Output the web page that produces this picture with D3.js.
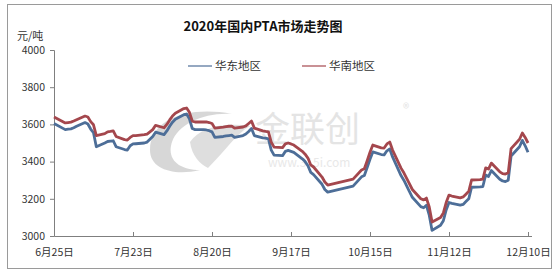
<!DOCTYPE html>
<html>
<head>
<meta charset="utf-8">
<title>2020年国内PTA市场走势图</title>
<script src="https://d3js.org/d3.v7.min.js"></script>
<style>
  body { margin: 0; background: #fff; }
  text { font-family: "Noto Sans CJK SC", sans-serif; }
</style>
</head>
<body>
<div id="chart"></div>
<script>
// trading days (2020) and prices
let dates = ["06-25","06-29","06-30","07-01","07-02","07-03","07-06","07-07","07-08","07-09",
  "07-10","07-13","07-14","07-15","07-16","07-17","07-20","07-21","07-22","07-23",
  "07-24","07-27","07-28","07-29","07-30","07-31","08-03","08-04","08-05","08-06",
  "08-07","08-10","08-11","08-12","08-13","08-14","08-17","08-18","08-19","08-20",
  "08-21","08-24","08-25","08-26","08-27","08-28","08-31","09-01","09-02","09-03",
  "09-04","09-07","09-08","09-09","09-10","09-11","09-14","09-15","09-16","09-17",
  "09-18","09-21","09-22","09-23","09-24","09-25","09-28","09-29","09-30","10-09",
  "10-12","10-13","10-14","10-15","10-16","10-19","10-20","10-21","10-22","10-23",
  "10-26","10-27","10-28","10-29","10-30","11-02","11-03","11-04","11-05","11-06",
  "11-09","11-10","11-11","11-12","11-13","11-16","11-17","11-18","11-19","11-20",
  "11-23","11-24","11-25","11-26","11-27","11-30","12-01","12-02","12-03","12-04",
  "12-07","12-08","12-09","12-10"]

// 华南地区
let south = [3640,3608,3610,3612,3618,3625,3645,3640,3615,3598,
  3540,3550,3560,3562,3565,3535,3518,3516,3530,3540,
  3540,3545,3548,3560,3572,3595,3582,3600,3624,3645,
  3660,3685,3688,3665,3618,3613,3613,3613,3610,3605,
  3580,3585,3588,3590,3591,3580,3586,3592,3605,3618,
  3580,3565,3562,3560,3505,3478,3475,3495,3500,3495,
  3489,3455,3440,3419,3382,3371,3317,3290,3274,3306,
  3355,3362,3405,3450,3489,3474,3473,3495,3505,3462,
  3365,3340,3310,3280,3250,3200,3194,3204,3156,3075,
  3100,3124,3180,3220,3215,3205,3210,3225,3240,3301,
  3303,3306,3366,3360,3392,3345,3335,3333,3340,3470,
  3520,3554,3530,3500]

// 华东地区
let east = [3605,3572,3574,3576,3582,3590,3610,3602,3575,3555,
  3480,3500,3508,3510,3512,3480,3465,3462,3485,3495,
  3496,3500,3505,3520,3535,3558,3545,3565,3590,3612,
  3628,3652,3656,3630,3578,3572,3572,3570,3566,3560,
  3530,3535,3538,3540,3542,3530,3540,3548,3562,3578,
  3540,3528,3526,3522,3462,3435,3432,3455,3460,3455,
  3450,3415,3400,3378,3342,3330,3278,3250,3236,3268,
  3318,3325,3368,3412,3452,3438,3436,3458,3468,3425,
  3325,3300,3270,3238,3208,3158,3152,3165,3112,3030,
  3058,3082,3140,3180,3175,3166,3170,3185,3200,3262,
  3264,3266,3328,3320,3352,3305,3296,3293,3300,3430,
  3480,3514,3485,3450]

let tickDates = ["06-25","07-23","08-20","09-17","10-15","11-12","12-10"]
let yTicks = [3000,3200,3400,3600,3800,4000]

let seriesNames = ["华东地区","华南地区"]
let seriesColors = ["#4d6e98","#a4474d"]

let W = 556, H = 274
let parse = d3.timeParse("%Y-%m-%d")
let toDate = s => parse("2020-" + s)

let svg = d3.select("#chart").append("svg")
    .attr("width", W).attr("height", H)

// outer frame
svg.append("rect")
    .attr("x", 7.5).attr("y", 4.5)
    .attr("width", 544).attr("height", 264)
    .attr("fill", "#fff").attr("stroke", "#9a9a9a")

let xScale = d3.scaleTime()
    .domain([toDate("06-25"), toDate("12-10")])
    .range([54, 528])

let yScale = d3.scaleLinear()
    .domain([3000, 4000])
    .range([236, 50])

// title
svg.append("text")
    .attr("x", 263).attr("y", 31)
    .attr("text-anchor", "middle")
    .attr("font-size", "13px").attr("font-weight", "bold")
    .attr("fill", "#111")
    .text("2020年国内PTA市场走势图")

svg.append("text")
    .attr("x", 17).attr("y", 40)
    .attr("font-size", "11px").attr("fill", "#333")
    .text("元/吨")

// watermark
let wm = svg.append("g").attr("opacity", 0.55)
wm.append("path")
    .attr("d", "M150,150 C150,118 190,106 232,114 C205,112 178,124 172,142 C166,160 180,170 200,170 C175,176 150,170 150,150 Z")
    .attr("fill", "#b8b8b8")
wm.append("path")
    .attr("d", "M190,142 C200,128 222,122 250,126 C236,134 226,150 208,168 C200,164 192,156 190,142 Z")
    .attr("fill", "#c4c4c4")
wm.append("text")
    .attr("x", 255).attr("y", 142)
    .attr("font-size", "35px").attr("fill", "#cfcfcf")
    .text("金联创")
wm.append("text")
    .attr("x", 403).attr("y", 113)
    .attr("font-size", "13px").attr("fill", "#cfcfcf")
    .text("®")
wm.append("text")
    .attr("x", 268).attr("y", 167)
    .attr("font-size", "12px").attr("fill", "#d6d6d6")
    .text("www.315i.com")

// axes
let xAxis = d3.axisBottom(xScale)
    .tickValues(tickDates.map(toDate))
    .tickSize(-4)
    .tickPadding(13)
    .tickFormat(d3.timeFormat("%-m月%-d日"))

let yAxis = d3.axisLeft(yScale)
    .tickValues(yTicks)
    .tickSize(4)
    .tickPadding(5)
    .tickFormat(d3.format("d"))

let gx = svg.append("g")
    .attr("transform", "translate(0,236)")
    .call(xAxis)
gx.select(".domain").attr("d", "M54.5,0.5H532")

let gy = svg.append("g")
    .attr("transform", "translate(54,0)")
    .call(yAxis)

svg.selectAll(".domain, .tick line").attr("stroke", "#7f7f7f")
svg.selectAll(".tick text")
    .attr("font-family", "\"Noto Sans CJK SC\", sans-serif")
    .attr("font-size", "10.5px").attr("fill", "#333")

// lines
let rows = dates.map((d, i) => ({date: toDate(d), v: [east[i], south[i]]}))

seriesNames.forEach(function(name, k) {
    let line = d3.line()
        .x(d => xScale(d.date))
        .y(d => yScale(d.v[k]))
    svg.append("path")
        .datum(rows)
        .attr("d", line)
        .attr("fill", "none")
        .attr("stroke", seriesColors[k])
        .attr("stroke-width", 2.8)
        .attr("stroke-linejoin", "round")
})

// legend
let legendX = [188, 302]
seriesNames.forEach(function(name, k) {
    let g = svg.append("g").attr("transform", "translate(" + legendX[k] + ",66)")
    g.append("line")
        .attr("x1", 0).attr("x2", 24)
        .attr("stroke", seriesColors[k]).attr("stroke-width", 1.2)
    g.append("text")
        .attr("x", 27).attr("y", 4)
        .attr("font-size", "11.5px").attr("fill", "#333")
        .text(name)
})
</script>
</body>
</html>
